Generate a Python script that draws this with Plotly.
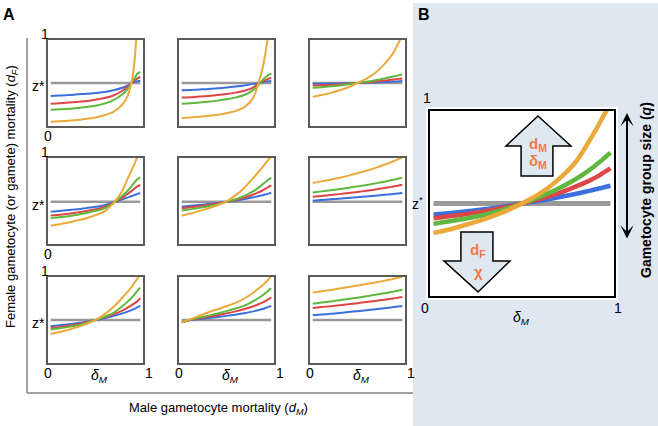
import plotly.graph_objects as go

W, H = 658, 426
FONT = "Arial, Liberation Sans, sans-serif"

# common x grid (delta_M from 0 to 1)
X_GRID = [0, 0.1, 0.2, 0.3, 0.4, 0.5, 0.6, 0.7, 0.8, 0.85, 0.9, 0.93, 0.95, 0.97, 1.0]
Z_STAR = [0.5, 0.49, 0.5]

# panel A, row 1
A11_BLUE = [0.35, 0.355, 0.36, 0.368, 0.375, 0.385, 0.395, 0.415, 0.445, 0.465, 0.5, 0.51, 0.515, 0.52, 0.525]
A11_RED = [0.26, 0.265, 0.272, 0.28, 0.29, 0.305, 0.325, 0.355, 0.41, 0.45, 0.5, 0.525, 0.54, 0.555, 0.57]
A11_GREEN = [0.19, 0.195, 0.2, 0.21, 0.22, 0.235, 0.26, 0.3, 0.37, 0.42, 0.5, 0.55, 0.58, 0.61, 0.63]
A11_ORANGE = [0.05, 0.055, 0.062, 0.07, 0.083, 0.1, 0.125, 0.165, 0.25, 0.33, 0.5, 0.7, 0.95, 1.4, 1.8]

A12_BLUE = [0.415, 0.42, 0.425, 0.43, 0.438, 0.447, 0.458, 0.472, 0.49, 0.5, 0.508, 0.513, 0.516, 0.52, 0.524]
A12_RED = [0.33, 0.335, 0.342, 0.35, 0.36, 0.372, 0.388, 0.41, 0.45, 0.49, 0.515, 0.53, 0.54, 0.55, 0.56]
A12_GREEN = [0.26, 0.265, 0.273, 0.283, 0.295, 0.31, 0.33, 0.36, 0.42, 0.47, 0.53, 0.56, 0.58, 0.595, 0.61]
A12_ORANGE = [0.093, 0.1, 0.108, 0.118, 0.13, 0.148, 0.175, 0.22, 0.33, 0.48, 0.66, 0.82, 0.95, 1.1, 1.4]

A13_BLUE = [0.49, 0.491, 0.493, 0.495, 0.497, 0.5, 0.503, 0.507, 0.511, 0.514, 0.516, 0.518, 0.519, 0.52, 0.522]
A13_RED = [0.47, 0.473, 0.478, 0.484, 0.491, 0.5, 0.508, 0.517, 0.528, 0.534, 0.54, 0.544, 0.547, 0.55, 0.553]
A13_GREEN = [0.445, 0.452, 0.461, 0.471, 0.485, 0.5, 0.515, 0.532, 0.552, 0.563, 0.575, 0.583, 0.588, 0.594, 0.6]
A13_ORANGE = [0.337, 0.36, 0.385, 0.415, 0.45, 0.5, 0.55, 0.62, 0.72, 0.78, 0.85, 0.91, 0.95, 0.99, 1.05]

# panel A, row 2
A21_BLUE = [0.376, 0.385, 0.395, 0.405, 0.418, 0.432, 0.45, 0.485, 0.52, 0.538, 0.555, 0.567, 0.575, 0.583, 0.59]
A21_RED = [0.33, 0.34, 0.352, 0.366, 0.383, 0.403, 0.43, 0.48, 0.54, 0.575, 0.615, 0.64, 0.657, 0.672, 0.686]
A21_GREEN = [0.3, 0.31, 0.323, 0.34, 0.36, 0.385, 0.415, 0.475, 0.56, 0.61, 0.67, 0.71, 0.735, 0.755, 0.775]
A21_ORANGE = [0.213, 0.23, 0.25, 0.275, 0.3, 0.335, 0.38, 0.475, 0.62, 0.74, 0.85, 0.92, 0.97, 1.02, 1.1]

A22_BLUE = [0.434, 0.444, 0.455, 0.465, 0.477, 0.49, 0.505, 0.522, 0.543, 0.555, 0.567, 0.575, 0.58, 0.586, 0.592]
A22_RED = [0.415, 0.427, 0.44, 0.455, 0.472, 0.49, 0.512, 0.54, 0.575, 0.598, 0.622, 0.64, 0.652, 0.665, 0.68]
A22_GREEN = [0.39, 0.405, 0.42, 0.438, 0.46, 0.49, 0.52, 0.56, 0.615, 0.65, 0.69, 0.715, 0.733, 0.752, 0.77]
A22_ORANGE = [0.33, 0.355, 0.385, 0.415, 0.45, 0.495, 0.565, 0.655, 0.77, 0.83, 0.89, 0.93, 0.955, 0.985, 1.02]

A23_BLUE = [0.504, 0.511, 0.519, 0.527, 0.535, 0.544, 0.553, 0.562, 0.572, 0.577, 0.582, 0.585, 0.587, 0.589, 0.592]
A23_RED = [0.55, 0.559, 0.569, 0.58, 0.592, 0.605, 0.619, 0.634, 0.651, 0.66, 0.669, 0.674, 0.678, 0.682, 0.688]
A23_GREEN = [0.6, 0.612, 0.625, 0.639, 0.654, 0.67, 0.687, 0.705, 0.725, 0.736, 0.747, 0.754, 0.759, 0.764, 0.772]
A23_ORANGE = [0.71, 0.728, 0.748, 0.77, 0.795, 0.822, 0.852, 0.885, 0.922, 0.942, 0.962, 0.975, 0.984, 0.993, 1.005]

# panel A, row 3
A31_BLUE = [0.426, 0.438, 0.451, 0.465, 0.481, 0.5, 0.521, 0.546, 0.577, 0.595, 0.615, 0.629, 0.639, 0.65, 0.665]
A31_RED = [0.407, 0.42, 0.435, 0.452, 0.474, 0.5, 0.53, 0.566, 0.61, 0.638, 0.67, 0.69, 0.705, 0.722, 0.755]
A31_GREEN = [0.388, 0.403, 0.42, 0.44, 0.467, 0.5, 0.537, 0.583, 0.66, 0.705, 0.755, 0.79, 0.815, 0.845, 0.875]
A31_ORANGE = [0.337, 0.36, 0.387, 0.417, 0.455, 0.5, 0.565, 0.65, 0.76, 0.82, 0.88, 0.925, 0.955, 0.985, 1.03]

A32_BLUE = [0.473, 0.5, 0.512, 0.523, 0.535, 0.548, 0.562, 0.578, 0.6, 0.613, 0.627, 0.637, 0.645, 0.653, 0.665]
A32_RED = [0.473, 0.503, 0.52, 0.537, 0.556, 0.577, 0.6, 0.627, 0.66, 0.68, 0.703, 0.718, 0.73, 0.742, 0.765]
A32_GREEN = [0.473, 0.506, 0.528, 0.551, 0.576, 0.603, 0.633, 0.667, 0.72, 0.75, 0.785, 0.81, 0.825, 0.845, 0.87]
A32_ORANGE = [0.473, 0.51, 0.55, 0.59, 0.625, 0.66, 0.7, 0.75, 0.82, 0.86, 0.9, 0.93, 0.95, 0.975, 1.01]

A33_BLUE = [0.554, 0.563, 0.572, 0.582, 0.592, 0.603, 0.614, 0.625, 0.637, 0.643, 0.65, 0.654, 0.657, 0.66, 0.664]
A33_RED = [0.64, 0.65, 0.661, 0.672, 0.684, 0.696, 0.709, 0.722, 0.736, 0.744, 0.751, 0.756, 0.759, 0.763, 0.768]
A33_GREEN = [0.69, 0.703, 0.716, 0.73, 0.745, 0.76, 0.776, 0.793, 0.811, 0.82, 0.83, 0.836, 0.84, 0.845, 0.852]
A33_ORANGE = [0.82, 0.835, 0.85, 0.866, 0.883, 0.9, 0.918, 0.937, 0.957, 0.967, 0.978, 0.985, 0.99, 0.995, 1.003]

# panel B
B_Z_STAR = 0.5
B_BLUE = [0.44, 0.449, 0.459, 0.47, 0.484, 0.5, 0.515, 0.532, 0.551, 0.562, 0.573, 0.58, 0.584, 0.589, 0.596]
B_RED = [0.42, 0.432, 0.445, 0.46, 0.478, 0.5, 0.524, 0.553, 0.59, 0.61, 0.633, 0.648, 0.66, 0.672, 0.69]
B_GREEN = [0.39, 0.405, 0.422, 0.442, 0.468, 0.5, 0.536, 0.578, 0.63, 0.66, 0.695, 0.718, 0.733, 0.75, 0.775]
B_ORANGE = [0.34, 0.362, 0.39, 0.42, 0.456, 0.5, 0.553, 0.625, 0.72, 0.79, 0.87, 0.92, 0.955, 0.99, 1.04]

COLORS = ["#3b6fdc", "#dc4646", "#5fb83e", "#eaa93a"]
GRAY = "#9a9a9a"
BG_B = "#dfe7f1"
ORANGE_TXT = "#ef7b47"

PANELS = [
    [(A11_BLUE, A11_RED, A11_GREEN, A11_ORANGE), (A12_BLUE, A12_RED, A12_GREEN, A12_ORANGE),
     (A13_BLUE, A13_RED, A13_GREEN, A13_ORANGE)],
    [(A21_BLUE, A21_RED, A21_GREEN, A21_ORANGE), (A22_BLUE, A22_RED, A22_GREEN, A22_ORANGE),
     (A23_BLUE, A23_RED, A23_GREEN, A23_ORANGE)],
    [(A31_BLUE, A31_RED, A31_GREEN, A31_ORANGE), (A32_BLUE, A32_RED, A32_GREEN, A32_ORANGE),
     (A33_BLUE, A33_RED, A33_GREEN, A33_ORANGE)],
]

# pixel boxes of the small panels
COL_X = [(48, 143), (179, 274), (310, 405)]
ROW_Y = [(40, 126), (158, 244), (277, 363)]
B_X, B_Y = (430, 614), (111, 296)


def fx(p):
    return p / W


def fy(p):
    return 1 - p / H


fig = go.Figure()
layout = {}
k = 0
for r, (y0, y1) in enumerate(ROW_Y):
    for c, (x0, x1) in enumerate(COL_X):
        k += 1
        sfx = "" if k == 1 else str(k)
        fig.add_trace(go.Scatter(x=[X_GRID[0], X_GRID[-1]], y=[Z_STAR[r]] * 2, mode="lines",
                                 line=dict(color=GRAY, width=2.5), xaxis="x" + sfx, yaxis="y" + sfx,
                                 showlegend=False, hoverinfo="skip"))
        for vals, col in zip(PANELS[r][c], COLORS):
            fig.add_trace(go.Scatter(x=X_GRID, y=vals, mode="lines",
                                     line=dict(color=col, width=2, shape="spline", smoothing=0.8),
                                     xaxis="x" + sfx, yaxis="y" + sfx, showlegend=False))
        axis = dict(showline=True, mirror=True, linecolor="#5a5a5a", linewidth=1.6,
                    showgrid=False, zeroline=False, showticklabels=False, ticks="", fixedrange=True)
        layout["xaxis" + sfx] = dict(axis, domain=[fx(x0), fx(x1)], range=[-0.03, 1.03], anchor="y" + sfx)
        layout["yaxis" + sfx] = dict(axis, domain=[fy(y1), fy(y0)], range=[0, 1], anchor="x" + sfx)

# panel B
fig.add_trace(go.Scatter(x=[X_GRID[0], X_GRID[-1]], y=[B_Z_STAR] * 2, mode="lines",
                         line=dict(color=GRAY, width=5), xaxis="x10", yaxis="y10",
                         showlegend=False, hoverinfo="skip"))
for vals, col in zip((B_BLUE, B_RED, B_GREEN, B_ORANGE), COLORS):
    fig.add_trace(go.Scatter(x=X_GRID, y=vals, mode="lines",
                             line=dict(color=col, width=4.5, shape="spline", smoothing=0.8),
                             xaxis="x10", yaxis="y10", showlegend=False))
baxis = dict(showline=True, mirror=True, linecolor="black", linewidth=2,
             showgrid=False, zeroline=False, showticklabels=False, ticks="", fixedrange=True)
layout["xaxis10"] = dict(baxis, domain=[fx(B_X[0]), fx(B_X[1])], range=[-0.02, 1.02], anchor="y10")
layout["yaxis10"] = dict(baxis, domain=[fy(B_Y[1]), fy(B_Y[0])], range=[0, 1], anchor="x10")

shapes = [
    # panel B background
    dict(type="rect", xref="paper", yref="paper", x0=fx(413), x1=1, y0=0, y1=fy(3),
         fillcolor=BG_B, line=dict(width=0), layer="below"),
    dict(type="rect", xref="paper", yref="paper", x0=fx(426), x1=fx(618), y0=fy(300), y1=fy(107),
         fillcolor="white", line=dict(width=0), layer="below"),
    # panel A frame
    dict(type="line", xref="paper", yref="paper", x0=fx(27), x1=fx(27), y0=fy(38), y1=fy(393),
         line=dict(color="#a0a0a0", width=2)),
    dict(type="line", xref="paper", yref="paper", x0=fx(27), x1=fx(413), y0=fy(393), y1=fy(393),
         line=dict(color="#a0a0a0", width=2)),
    # block arrows in B
    dict(type="path", xref="x10 domain", yref="y10 domain",
         path="M 0.587 0.973 L 0.766 0.811 L 0.668 0.811 L 0.668 0.649 L 0.495 0.649 "
              "L 0.495 0.811 L 0.413 0.811 Z",
         fillcolor=BG_B, line=dict(color="black", width=1.5)),
    dict(type="path", xref="x10 domain", yref="y10 domain",
         path="M 0.261 0.022 L 0.435 0.189 L 0.342 0.189 L 0.342 0.346 L 0.168 0.346 "
              "L 0.168 0.189 L 0.076 0.189 Z",
         fillcolor=BG_B, line=dict(color="black", width=1.5)),
]

ann = []


def label(text, x, y, size=14, **kw):
    ann.append(dict(text=text, x=fx(x), y=fy(y), xref="paper", yref="paper", showarrow=False,
                    xanchor="center", yanchor="middle",
                    font=dict(family=FONT, size=size, color=kw.pop("color", "black")), **kw))


label("<b>A</b>", 9, 15, size=16)
label("<b>B</b>", 424, 15, size=16)
for r, (y0, y1) in enumerate(ROW_Y):
    zy = y1 - Z_STAR[r] * (y1 - y0)
    label("1", 45, y0 - 6)
    label("z*", 38, zy + 3)
    if r < 2:
        label("0", 48, y1 + 10)
for x0, x1 in COL_X:
    label("0", x0, 373)
    label("1", x1 + 6, 373)
    label("<i>δ</i><sub><i>M</i></sub>", (x0 + x1) / 2 + 4, 376)
label("Female gametocyte (or gamete) mortality (<i>d</i><sub><i>F</i></sub>)", 11, 197, size=13,
      textangle=-90)
label("Male gametocyte mortality (<i>d</i><sub><i>M</i></sub>)", 218, 408, size=13)

# panel B labels
label("1", 427, 98)
label("z<sup>*</sup>", 418, 203)
label("0", 425, 308)
label("1", 618, 308)
label("<i>δ</i><sub><i>M</i></sub>", 521, 318)
label("<b>Gametocyte group size (<i>q</i>)</b>", 646, 190, size=14, textangle=-90)
label("<b>d<sub>M</sub></b>", 538, 144, size=15, color=ORANGE_TXT)
label("<b>δ<sub>M</sub></b>", 538, 161, size=15, color=ORANGE_TXT)
label("<b>d<sub>F</sub></b>", 478, 250, size=15, color=ORANGE_TXT)
label("<b>χ</b>", 478, 271, size=15, color=ORANGE_TXT)

# double arrow for group size
ann.append(dict(x=fx(627), y=fy(113), xref="paper", yref="paper", ax=0, ay=127,
                axref="pixel", ayref="pixel", text="", showarrow=True, arrowhead=3,
                arrowside="end+start", arrowsize=1.1, arrowwidth=2, arrowcolor="black"))

fig.update_layout(
    width=W, height=H, margin=dict(l=0, r=0, t=0, b=0),
    paper_bgcolor="white", plot_bgcolor="white",
    shapes=shapes, annotations=ann, showlegend=False,
    font=dict(family=FONT, size=13),
    **layout,
)

fig.write_html("out.html", config={"displayModeBar": False},
               post_script="document.body.style.margin='0';document.body.style.overflow='hidden';")
